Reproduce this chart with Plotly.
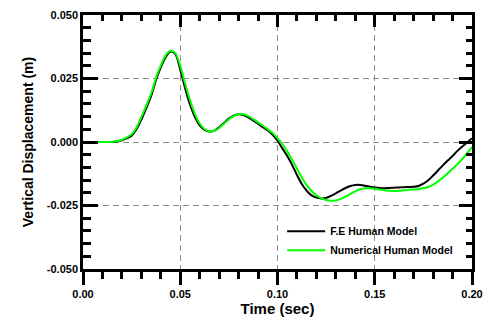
import plotly.graph_objects as go

# Time samples (s)
time_s = [0.000, 0.010, 0.015, 0.0175, 0.020, 0.0225, 0.025, 0.0275, 0.030, 0.0325,
          0.035, 0.0375, 0.040, 0.0425, 0.045, 0.0475, 0.050, 0.0525, 0.055, 0.0575,
          0.060, 0.0625, 0.065, 0.0675, 0.070, 0.0725, 0.075, 0.0775, 0.080, 0.0825,
          0.085, 0.0875, 0.090, 0.0925, 0.095, 0.0975, 0.100, 0.1025, 0.105, 0.1075,
          0.110, 0.1125, 0.115, 0.1175, 0.120, 0.1225, 0.125, 0.1275, 0.130, 0.1325,
          0.135, 0.1375, 0.140, 0.1425, 0.145, 0.1475, 0.150, 0.1525, 0.155, 0.1575,
          0.160, 0.1625, 0.165, 0.1675, 0.170, 0.1725, 0.175, 0.1775, 0.180, 0.1825,
          0.185, 0.1875, 0.190, 0.1925, 0.195, 0.1975, 0.200]

# Vertical displacement (m) - finite element human model
fe_model = [0.0000, 0.0000, 0.0000, 0.0002, 0.0007, 0.0014, 0.0025, 0.0050, 0.0088, 0.0133,
            0.0180, 0.0243, 0.0294, 0.0334, 0.0356, 0.0346, 0.0285, 0.0212, 0.0148, 0.0099,
            0.0065, 0.0048, 0.0041, 0.0045, 0.0058, 0.0075, 0.0092, 0.0104, 0.0109, 0.0106,
            0.0097, 0.0085, 0.0072, 0.0058, 0.0045, 0.0028, 0.0005, -0.0025, -0.0055, -0.0090,
            -0.0130, -0.0165, -0.0192, -0.0210, -0.0219, -0.0222, -0.0220, -0.0212, -0.0202, -0.0191,
            -0.0181, -0.0173, -0.0169, -0.0169, -0.0172, -0.0176, -0.0179, -0.0181, -0.0182, -0.0181,
            -0.0180, -0.0179, -0.0178, -0.0177, -0.0176, -0.0173, -0.0164, -0.0151, -0.0132, -0.0112,
            -0.0092, -0.0073, -0.0055, -0.0035, -0.0018, -0.0002, 0.0015]

# Vertical displacement (m) - numerical human model
num_model = [0.0000, 0.0000, 0.0001, 0.0003, 0.0009, 0.0018, 0.0030, 0.0057, 0.0098, 0.0143,
             0.0190, 0.0252, 0.0302, 0.0341, 0.0359, 0.0350, 0.0300, 0.0230, 0.0165, 0.0112,
             0.0073, 0.0051, 0.0042, 0.0044, 0.0055, 0.0072, 0.0089, 0.0102, 0.0109, 0.0109,
             0.0102, 0.0090, 0.0077, 0.0064, 0.0050, 0.0035, 0.0015, -0.0008, -0.0037, -0.0070,
             -0.0105, -0.0140, -0.0170, -0.0193, -0.0210, -0.0221, -0.0228, -0.0231, -0.0230, -0.0224,
             -0.0215, -0.0204, -0.0194, -0.0186, -0.0182, -0.0182, -0.0184, -0.0187, -0.0190, -0.0192,
             -0.0193, -0.0192, -0.0190, -0.0188, -0.0187, -0.0185, -0.0182, -0.0177, -0.0168, -0.0155,
             -0.0140, -0.0123, -0.0105, -0.0087, -0.0067, -0.0044, -0.0020]

x_ticks = [0.00, 0.05, 0.10, 0.15, 0.20]
x_tick_text = ["0.00", "0.05", "0.10", "0.15", "0.20"]
y_ticks = [-0.050, -0.025, 0.000, 0.025, 0.050]
y_tick_text = ["-0.050", "-0.025", "0.000", "0.025", "0.050"]

X_RANGE = [0.0, 0.2]
Y_RANGE = [-0.05, 0.05]

FONT = "Arial, Liberation Sans, sans-serif"
AXIS_W = 2.5

fig = go.Figure()
fig.add_trace(go.Scatter(x=time_s, y=fe_model, mode="lines", name="<b>F.E Human Model</b>",
                         line=dict(color="black", width=2, shape="spline", smoothing=0.8),
                         legendgroup="a"))
fig.add_trace(go.Scatter(x=time_s, y=num_model, mode="lines", name="<b>Numerical Human Model</b>",
                         line=dict(color="#00ff00", width=2, shape="spline", smoothing=0.8),
                         legendgroup="b"))
# companion axes carrying the inward ticks on the top and right frame edges
fig.add_trace(go.Scatter(x=X_RANGE, y=Y_RANGE, xaxis="x2", yaxis="y2", mode="lines",
                         line=dict(width=0), showlegend=False, hoverinfo="skip"))

grid = dict(showgrid=True, gridcolor="#8c8c8c", gridwidth=1, griddash="6px,4px")

fig.update_layout(
    width=483, height=324,
    margin=dict(l=83, r=11, t=15, b=55, autoexpand=False),
    paper_bgcolor="white", plot_bgcolor="white",
    font=dict(family=FONT, color="black"),
    xaxis=dict(range=X_RANGE, tickvals=x_ticks, ticktext=x_tick_text, automargin=False,
               ticks="outside", ticklen=13, tickwidth=AXIS_W, tickcolor="black",
               minor=dict(dtick=0.01, ticks="outside", ticklen=7, tickwidth=AXIS_W,
                          tickcolor="black", showgrid=False),
               showline=True, linecolor="black", linewidth=AXIS_W,
               tickfont=dict(size=11, family=FONT, weight="bold"),
               title=dict(text="<b>Time (sec)</b>", font=dict(size=15), standoff=0),
               zeroline=False, **grid),
    yaxis=dict(range=Y_RANGE, tickvals=y_ticks, ticktext=y_tick_text, automargin=False,
               ticks="inside", ticklen=15, tickwidth=AXIS_W, tickcolor="black",
               minor=dict(dtick=0.005, ticks="inside", ticklen=8, tickwidth=AXIS_W,
                          tickcolor="black", showgrid=False),
               showline=True, linecolor="black", linewidth=AXIS_W,
               tickfont=dict(size=11, family=FONT, weight="bold"),
               title=dict(text="<b>Vertical Displacement (m)</b>", font=dict(size=14), standoff=10),
               zeroline=False, **grid),
    xaxis2=dict(range=X_RANGE, overlaying="x", side="top", anchor="y", automargin=False,
                tickvals=x_ticks, ticks="inside", ticklen=12, tickwidth=AXIS_W, tickcolor="black",
                minor=dict(dtick=0.01, ticks="inside", ticklen=6, tickwidth=AXIS_W, tickcolor="black"),
                showticklabels=False, showline=True, linecolor="black", linewidth=AXIS_W,
                showgrid=False, zeroline=False),
    yaxis2=dict(range=Y_RANGE, overlaying="y", side="right", anchor="x", automargin=False,
                tickvals=y_ticks, ticks="inside", ticklen=13, tickwidth=AXIS_W, tickcolor="black",
                minor=dict(dtick=0.005, ticks="inside", ticklen=6, tickwidth=AXIS_W, tickcolor="black"),
                showticklabels=False, showline=True, linecolor="black", linewidth=AXIS_W,
                showgrid=False, zeroline=False),
    legend=dict(x=0.512, y=0.206, xanchor="left", yanchor="top", itemwidth=38,
                bgcolor="rgba(0,0,0,0)", borderwidth=0, tracegroupgap=12,
                font=dict(size=10.5, family=FONT), traceorder="normal"),
    showlegend=True,
)

fig.write_html("out.html")
